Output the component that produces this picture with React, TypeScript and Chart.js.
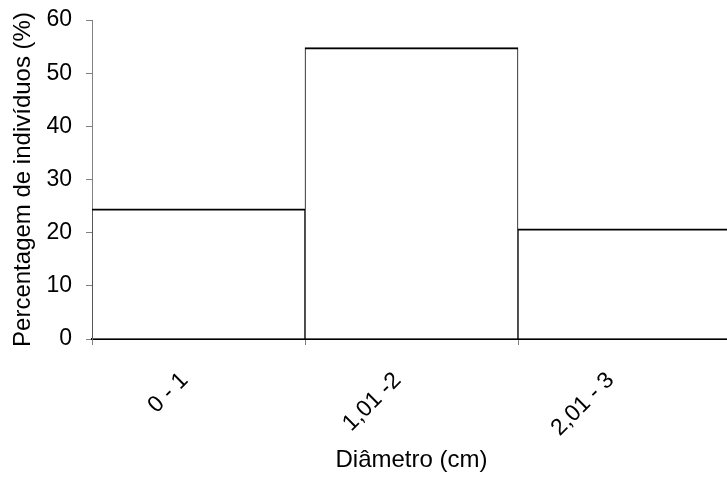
import React, { useEffect, useRef } from "react";
import { Chart, registerables } from "chart.js";

Chart.register(...registerables);

const categories = ["0 - 1", "1,01 -2", "2,01 - 3"];
const percentages = [24.5, 54.8, 20.7];
const yTicks = [0, 10, 20, 30, 40, 50, 60];
const xTitle = "Diâmetro (cm)";
const yTitle = "Percentagem de indivíduos (%)";

export default function App() {
  const ref = useRef<HTMLCanvasElement | null>(null);

  useEffect(() => {
    document.body.style.margin = "0";
    const canvas = ref.current!;
    const font = { family: "'Liberation Sans', Arial, sans-serif", size: 23 };
    const chart = new Chart(canvas, {
      type: "bar",
      data: {
        labels: categories,
        datasets: [
          {
            data: percentages,
            backgroundColor: "#ffffff",
            borderColor: "#000000",
            borderWidth: { top: 2, left: 1, right: 1, bottom: 0 } as any,
            borderSkipped: false,
            barPercentage: 1,
            categoryPercentage: 1,
          },
        ],
      },
      options: {
        animation: false,
        responsive: false,
        maintainAspectRatio: false,
        layout: { padding: { left: 0, right: 2, top: 20, bottom: 0 } },
        plugins: { legend: { display: false }, tooltip: { enabled: false } },
        scales: {
          x: {
            type: "category",
            offset: true,
            grid: {
              offset: true,
              drawOnChartArea: false,
              drawTicks: true,
              tickLength: 6,
              color: "#808080",
            },
            border: { display: true, color: "#000000", width: 2 },
            ticks: {
              color: "#000000",
              font,
              minRotation: 45,
              maxRotation: 45,
              autoSkip: false,
              padding: 22,
              labelOffset: -14,
            },
            title: {
              display: true,
              text: xTitle,
              color: "#000000",
              font: { ...font, size: 24 },
              padding: { top: 0, bottom: 2 },
            },
            afterFit: (s: any) => {
              s.height = 477 - 339;
              s.paddingLeft = 0;
              s.paddingRight = 0;
            },
          },
          y: {
            min: 0,
            max: 60,
            afterBuildTicks: (s: any) => {
              s.ticks = yTicks.map((v) => ({ value: v }));
            },
            grid: {
              drawOnChartArea: false,
              drawTicks: true,
              tickLength: 6,
              color: "#808080",
            },
            border: { display: true, color: "#808080", width: 1 },
            ticks: { color: "#000000", font, padding: 14 },
            title: {
              display: true,
              text: yTitle,
              color: "#000000",
              font: { ...font, size: 24 },
              padding: { top: 9, bottom: 0 },
            },
            afterFit: (s: any) => {
              s.width = 92;
              s.paddingTop = 0;
              s.paddingBottom = 0;
            },
          },
        },
      },
    });
    return () => chart.destroy();
  }, []);

  return (
    <div
      style={{
        position: "fixed",
        left: 0,
        top: 0,
        width: 727,
        height: 477,
        overflow: "hidden",
        background: "#ffffff",
      }}
    >
      <canvas ref={ref} width={733} height={477} style={{ width: 733, height: 477, display: "block" }} />
    </div>
  );
}
